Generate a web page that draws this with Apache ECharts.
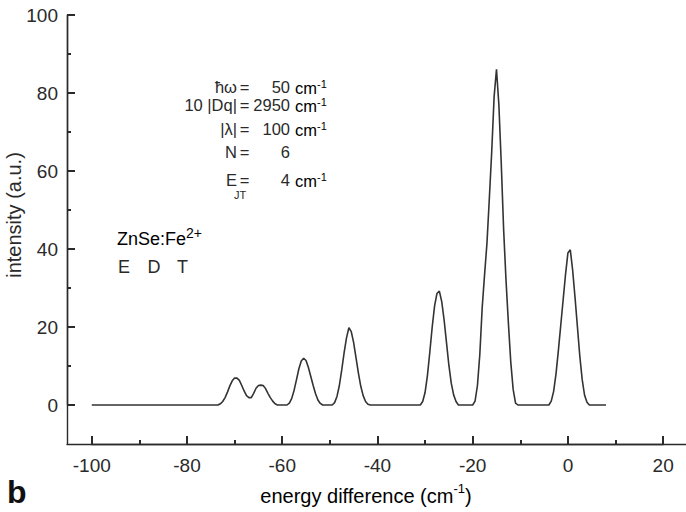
<!DOCTYPE html>
<html>
<head>
<meta charset="utf-8">
<script src="https://cdn.jsdelivr.net/npm/echarts@6/dist/echarts.min.js"></script>
<style>
  html, body { margin: 0; padding: 0; background: #ffffff; }
  #chart { width: 686px; height: 512px; }
</style>
</head>
<body>
<div id="chart"></div>
<script>
// Simulated absorption spectrum, ZnSe:Fe2+ (E ⊗ T Jahn-Teller system)
const energy = [
  -100, -73.5, -73, -72.5, -72, -71.5, -71, -70.5, -70, -69.5, -69, -68.5, -68, -67.5, -67, -66.5, -66, -65.5, -65, -64.5, -64, -63.5, -63, -62.5, -62, -61.5, -61,
  -59, -58.5, -58, -57.5, -57, -56.5, -56, -55.5, -55, -54.5, -54, -53.5, -53, -52.5, -52, -51.5,
  -49.5, -49, -48.5, -48, -47.5, -47, -46.5, -46, -45.5, -45, -44.5, -44, -43.5, -43, -42.5, -42, -41.5,
  -31.5, -31, -30.5, -30, -29.5, -29, -28.5, -28, -27.5, -27, -26.5, -26, -25.5, -25, -24.5, -24, -23.5, -23,
  -20, -19.5, -19, -18.5, -18, -17.5, -17, -16.5, -16, -15.5, -15, -14.5, -14, -13.5, -13, -12.5, -12, -11.5, -11, -10.5,
  -4, -3.5, -3, -2.5, -2, -1.5, -1, -0.5, 0, 0.5, 1, 1.5, 2, 2.5, 3, 3.5, 4, 4.5, 8
];
const intensity = [
  0, 0, 0.3, 0.9, 1.9, 3.3, 4.9, 6.2, 6.9, 6.9, 6.3, 5.0, 3.6, 2.4, 1.9, 1.9, 3.0, 4.3, 5.0, 5.1, 5.0, 4.2, 3.0, 1.9, 1.0, 0.3, 0,
  0, 0.5, 1.7, 3.8, 6.5, 9.3, 11.3, 12.0, 11.4, 9.6, 7.3, 5.0, 2.9, 1.3, 0.4, 0,
  0, 0.6, 2.2, 5.0, 9.0, 13.4, 17.2, 19.8, 18.8, 16.0, 12.1, 8.2, 4.8, 2.4, 0.9, 0.2, 0,
  0, 0, 0.9, 3.2, 7.6, 13.6, 20.0, 25.4, 28.6, 29.2, 26.5, 21.8, 16.0, 10.2, 5.6, 2.6, 0.9, 0,
  0, 1, 5, 13, 25, 33.5, 41.5, 53, 65, 79, 86.1, 77, 62, 45, 32, 21, 11, 4, 0.5, 0,
  0, 1.0, 3.5, 8.0, 14.0, 20.5, 27.0, 33.5, 39.0, 39.8, 34.5, 27.5, 20.0, 12.5, 6.5, 2.5, 0.7, 0, 0
];

const xMajorTicks = [-100, -80, -60, -40, -20, 0, 20];
const yMajorTicks = [0, 20, 40, 60, 80, 100];

// model parameters listed in the plot
const paramNames = ['ħω', '10 |Dq|', '|λ|', 'N', 'E'];
const paramValues = ['50', '2950', '100', '6', '4'];
const paramUnits = ['cm', 'cm', 'cm', '', 'cm'];

const X_MIN = -105.2, X_MAX = 24.8, Y_MIN = -10, Y_MAX = 100;
const W = 686, H = 512;
const G = { left: 67, right: 0, top: 15, bottom: 68 };
const FONT = '"Liberation Sans", Arial, Helvetica, sans-serif';
const INK = '#2a2a2a';

// helper grids share the main grid's scale but start on a round tick value,
// so their axes carry the major and minor tick marks
const pxPerX = (W - G.left - G.right) / (X_MAX - X_MIN);
const pxPerY = (H - G.top - G.bottom) / (Y_MAX - Y_MIN);
const xTickFirst = xMajorTicks[0], xTickLast = xMajorTicks[xMajorTicks.length - 1];
const yTickFirst = yMajorTicks[0], yTickLast = yMajorTicks[yMajorTicks.length - 1];
const xTickGrid = {
  left: G.left + (xTickFirst - X_MIN) * pxPerX,
  right: G.right + (X_MAX - xTickLast) * pxPerX,
  top: G.top, bottom: G.bottom
};
const yTickGrid = {
  left: G.left, right: G.right,
  top: G.top + (Y_MAX - yTickLast) * pxPerY,
  bottom: G.bottom + (yTickFirst - Y_MIN) * pxPerY
};

const chart = echarts.init(document.getElementById('chart'), null, { renderer: 'svg' });

const lineData = energy.map((e, i) => [e, intensity[i]]);

const tickStyle = { color: INK, width: 2 };
const axisLineStyle = { color: INK, width: 1.4 };
const hiddenAxis = (gridIndex) => ({ type: 'value', gridIndex: gridIndex, show: false, min: 0, max: 1 });

const graphics = [];
const paramRowsY = [87, 105, 129, 152, 180];
paramNames.forEach((name, i) => {
  graphics.push({
    type: 'text',
    style: { x: 237, y: paramRowsY[i], text: name, textAlign: 'right', textVerticalAlign: 'middle',
             font: '16.5px ' + FONT, fill: INK }
  });
  graphics.push({
    type: 'text',
    style: { x: 244.5, y: paramRowsY[i], text: '=', textAlign: 'center', textVerticalAlign: 'middle',
             font: '16.5px ' + FONT, fill: INK }
  });
  graphics.push({
    type: 'text',
    style: { x: 290, y: paramRowsY[i], text: paramValues[i], textAlign: 'right', textVerticalAlign: 'middle',
             font: '16.5px ' + FONT, fill: INK }
  });
  if (paramUnits[i]) {
    graphics.push({
      type: 'text',
      style: {
        x: 295, y: paramRowsY[i], textVerticalAlign: 'middle',
        text: '{u|' + paramUnits[i] + '}{s|-1}',
        rich: {
          u: { fontFamily: FONT, fontSize: 16.5, color: INK, lineHeight: 18, verticalAlign: 'bottom' },
          s: { fontFamily: FONT, fontSize: 11, color: INK, lineHeight: 18, verticalAlign: 'top' }
        }
      }
    });
  }
});
// subscript of E_JT
graphics.push({
  type: 'text',
  style: { x: 234, y: 195, text: 'JT', textAlign: 'left', textVerticalAlign: 'middle',
           font: '11px ' + FONT, fill: INK }
});
// sample label and the Jahn-Teller system
graphics.push({
  type: 'text',
  style: {
    x: 117, y: 237, textVerticalAlign: 'middle',
    text: '{m|ZnSe:Fe}{s|2+}',
    rich: {
      m: { fontFamily: FONT, fontSize: 18, color: INK, lineHeight: 22, verticalAlign: 'bottom' },
      s: { fontFamily: FONT, fontSize: 14, color: INK, lineHeight: 22, verticalAlign: 'top' }
    }
  }
});
['E', 'D', 'T'].forEach((t, i) => {
  graphics.push({
    type: 'text',
    style: { x: 118 + i * 29.5, y: 267, text: t, textVerticalAlign: 'middle',
             font: '18px ' + FONT, fill: INK }
  });
});
// axis titles
graphics.push({
  type: 'text', rotation: Math.PI / 2, x: 14, y: 215,
  style: { x: 0, y: 0, text: 'intensity (a.u.)', textAlign: 'center', textVerticalAlign: 'middle',
           font: '20px ' + FONT, fill: INK }
});
graphics.push({
  type: 'text',
  style: {
    x: 366, y: 494, textAlign: 'center', textVerticalAlign: 'middle',
    text: '{a|energy difference (cm}{s|-1}{a|)}',
    rich: {
      a: { fontFamily: FONT, fontSize: 20, color: INK, lineHeight: 24, verticalAlign: 'bottom' },
      s: { fontFamily: FONT, fontSize: 13, color: INK, lineHeight: 24, verticalAlign: 'top' }
    }
  }
});
// panel letter
graphics.push({
  type: 'text',
  style: { x: 7, y: 492, text: 'b', textVerticalAlign: 'middle',
           font: 'bold 32px ' + FONT, fill: '#111' }
});

chart.setOption({
  backgroundColor: '#ffffff',
  animation: false,
  grid: [
    Object.assign({ outerBoundsMode: 'none' }, G),
    Object.assign({ outerBoundsMode: 'none' }, xTickGrid),
    Object.assign({ outerBoundsMode: 'none' }, yTickGrid)
  ],
  xAxis: [
    {
      type: 'value', gridIndex: 0, min: X_MIN, max: X_MAX,
      splitLine: { show: false },
      axisLine: { show: true, onZero: false, lineStyle: axisLineStyle },
      axisTick: { show: false },
      axisLabel: { show: true, customValues: xMajorTicks, margin: 12, fontSize: 19, fontFamily: FONT, color: INK }
    },
    {
      type: 'value', gridIndex: 1, position: 'bottom',
      min: xTickFirst, max: xTickLast, interval: 20,
      splitLine: { show: false },
      axisLine: { show: true, onZero: false, lineStyle: axisLineStyle },
      axisLabel: { show: false },
      axisTick: { show: true, inside: true, length: 8, lineStyle: tickStyle },
      minorTick: { show: true, splitNumber: 2, length: 4, lineStyle: tickStyle },
      minorSplitLine: { show: false }
    },
    hiddenAxis(2)
  ],
  yAxis: [
    {
      type: 'value', gridIndex: 0, min: Y_MIN, max: Y_MAX,
      splitLine: { show: false },
      axisLine: { show: true, onZero: false, lineStyle: axisLineStyle },
      axisTick: { show: false },
      axisLabel: { show: true, customValues: yMajorTicks, margin: 9, fontSize: 19, fontFamily: FONT, color: INK }
    },
    hiddenAxis(1),
    {
      type: 'value', gridIndex: 2, position: 'left',
      min: yTickFirst, max: yTickLast, interval: 20,
      splitLine: { show: false },
      axisLine: { show: true, onZero: false, lineStyle: axisLineStyle },
      axisLabel: { show: false },
      axisTick: { show: true, inside: true, length: 8, lineStyle: tickStyle },
      minorTick: { show: true, splitNumber: 2, length: 4, lineStyle: tickStyle },
      minorSplitLine: { show: false }
    }
  ],
  series: [{
    type: 'line',
    xAxisIndex: 0, yAxisIndex: 0,
    data: lineData,
    showSymbol: false,
    smooth: false,
    lineStyle: { color: '#333333', width: 1.6 }
  }],
  graphic: graphics
});
</script>
</body>
</html>
